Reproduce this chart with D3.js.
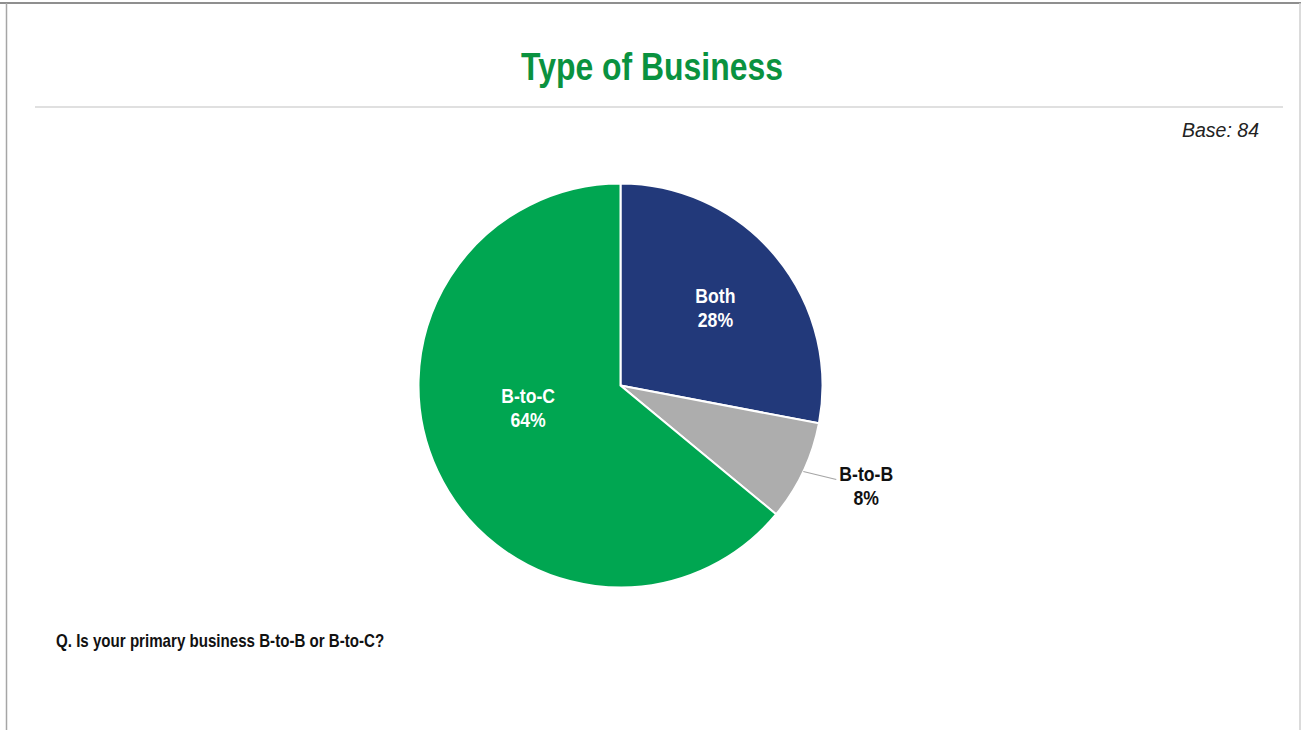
<!DOCTYPE html>
<html>
<head>
<meta charset="utf-8">
<script src="https://cdn.jsdelivr.net/npm/d3@7"></script>
<style>
  html, body { margin: 0; padding: 0; background: #fff; }
  svg { display: block; }
  .narrow { font-family: "Liberation Sans", Arial, sans-serif; font-weight: bold; }
</style>
</head>
<body>
<svg id="chart" width="1301" height="730"></svg>
<script>
// Survey answers: share of respondents by type of business
const categories = ["Both", "B-to-B", "B-to-C"];
const shares = [28, 8, 64];
const colors = ["#22397A", "#ADADAD", "#00A651"];
const title = "Type of Business";
const baseNote = "Base: 84";
const question = "Q. Is your primary business B-to-B or B-to-C?";

const W = 1301, H = 730;
const CONDENSE = 0.84;   // horizontal squeeze to get a narrow bold face
const svg = d3.select("#chart");

// condensed text helper: anchored at (x, y), squeezed horizontally
function narrowText(parent, x, y, str, size, fill, anchor) {
  return parent.append("text").attr("class", "narrow")
    .attr("transform", `translate(${x},${y}) scale(${CONDENSE},1)`)
    .attr("text-anchor", anchor || "start")
    .attr("font-size", size).attr("fill", fill)
    .text(str);
}

// page frame
svg.append("line").attr("x1", 0).attr("x2", W).attr("y1", 3).attr("y2", 3)
  .attr("stroke", "#8f8f8f").attr("stroke-width", 2);
svg.append("line").attr("x1", 6.5).attr("x2", 6.5).attr("y1", 3).attr("y2", H)
  .attr("stroke", "#a6a6a6").attr("stroke-width", 1.5);
svg.append("line").attr("x1", 1300).attr("x2", 1300).attr("y1", 3).attr("y2", H)
  .attr("stroke", "#cfcfcf").attr("stroke-width", 1.5);

// title and rule
narrowText(svg, 652, 80, title, 38, "#0A923F", "middle");
svg.append("line").attr("x1", 35).attr("x2", 1283).attr("y1", 107).attr("y2", 107)
  .attr("stroke", "#d6d6d6").attr("stroke-width", 1.5);

svg.append("text")
  .attr("x", 1259).attr("y", 137).attr("text-anchor", "end")
  .attr("font-family", "'Liberation Sans', Arial, sans-serif")
  .attr("font-style", "italic").attr("font-size", 19.5).attr("fill", "#222")
  .text(baseNote);

// pie
const cx = 620.5, cy = 385.5, R = 202;
const data = categories.map((c, i) => ({ name: c, value: shares[i], color: colors[i] }));
const pie = d3.pie().value(d => d.value).sort(null);
const arcs = pie(data);
const arc = d3.arc().innerRadius(0).outerRadius(R);

const g = svg.append("g").attr("transform", `translate(${cx},${cy})`);
g.selectAll("path").data(arcs).join("path")
  .attr("d", arc)
  .attr("fill", d => d.data.color)
  .attr("stroke", "#fff").attr("stroke-width", 2);

// label placement: inside labels at a fraction of the radius, outside label with a leader
const labelLayout = {
  "Both":   { inside: true, radius: 0.61, angleShift: 0 },
  "B-to-C": { inside: true, radius: 0.47, angleShift: 0.206 },
  "B-to-B": { inside: false }
};
const polar = (a, r) => [Math.sin(a) * r, -Math.cos(a) * r];

arcs.forEach(d => {
  const lay = labelLayout[d.data.name];
  const mid = (d.startAngle + d.endAngle) / 2;
  let tx, ty, fill;
  if (lay.inside) {
    [tx, ty] = polar(mid + lay.angleShift, R * lay.radius);
    fill = "#fff";
  } else {
    const p0 = polar(mid, R);
    const p1 = [p0[0] + 33, p0[1] + 8];
    g.append("polyline")
      .attr("points", [p0, p1].map(p => p.join(",")).join(" "))
      .attr("fill", "none").attr("stroke", "#a6a6a6").attr("stroke-width", 1.2);
    tx = p1[0] + 30; ty = p1[1] + 5;
    fill = "#111";
  }
  narrowText(g, tx, ty - 4, d.data.name, 21, fill, "middle");
  narrowText(g, tx, ty + 20, d3.format("d")(d.data.value) + "%", 21, fill, "middle");
});

// question footnote
narrowText(svg, 56, 647, question, 18, "#111", "start");
</script>
</body>
</html>
